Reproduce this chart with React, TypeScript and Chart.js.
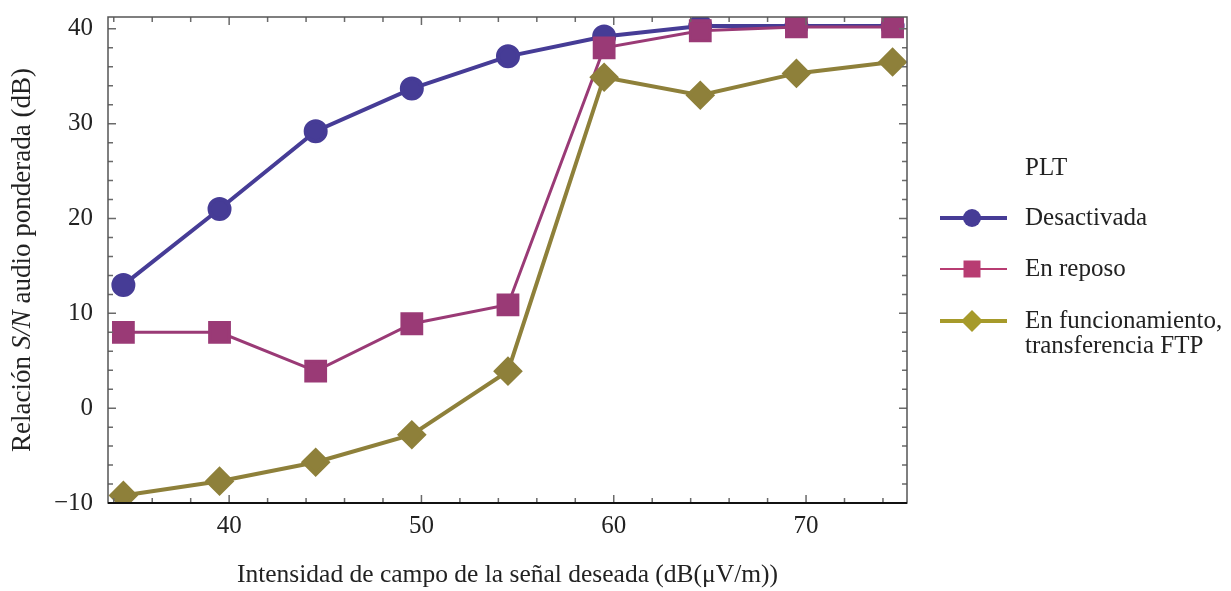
import React, { useEffect, useRef } from "react";
import { Chart, registerables } from "chart.js";

Chart.register(...registerables);

const xValues = [34.5, 39.5, 44.5, 49.5, 54.5, 59.5, 64.5, 69.5, 74.5];
const desactivada = [13.0, 21.0, 29.2, 33.7, 37.1, 39.2, 40.3, 40.3, 40.3];
const enReposo = [8.0, 8.0, 3.9, 8.9, 10.9, 38.0, 39.8, 40.2, 40.2];
const enFuncionamiento = [-9.2, -7.7, -5.7, -2.8, 3.9, 34.9, 33.0, 35.3, 36.5];

const xMajorTicks = [40, 50, 60, 70];
const yMajorTicks = [-10, 0, 10, 20, 30, 40];
const minorStep = 2;

const seriesLabels = ["Desactivada", "En reposo", "En funcionamiento,\ntransferencia FTP"];
const legendTitle = "PLT";
const xTitle = "Intensidad de campo de la señal deseada (dB(μV/m))";
const yTitleParts = [
  { text: "Relación ", italic: false },
  { text: "S/N", italic: true },
  { text: " audio ponderada (dB)", italic: false },
];

const FONT = "'Liberation Serif', 'Times New Roman', serif";
const FS = 25;
const colors = ["#463c96", "#9a3a76", "#8e803a"];
const legendColors = ["#463c96", "#b83c72", "#a69a2a"];

const decorPlugin = {
  id: "decor",
  afterDraw(chart: any) {
    const { ctx, chartArea, scales } = chart;
    const { left, right, top, bottom } = chartArea;
    const xs = scales.x;
    const ys = scales.y;
    ctx.save();
    // ticks (inward, all four sides)
    ctx.strokeStyle = "#6a6a6a";
    ctx.lineWidth = 1.5;
    const xStart = Math.ceil(xs.min / minorStep) * minorStep;
    for (let v = xStart; v <= xs.max + 1e-9; v += minorStep) {
      const px = xs.getPixelForValue(v);
      const len = v % 10 === 0 ? 8 : 5;
      ctx.beginPath();
      ctx.moveTo(px, bottom);
      ctx.lineTo(px, bottom - len);
      ctx.moveTo(px, top);
      ctx.lineTo(px, top + len);
      ctx.stroke();
    }
    const yStart = Math.ceil(ys.min / minorStep) * minorStep;
    for (let v = yStart; v <= ys.max + 1e-9; v += minorStep) {
      const py = ys.getPixelForValue(v);
      const len = v % 10 === 0 ? 8 : 5;
      ctx.beginPath();
      ctx.moveTo(left, py);
      ctx.lineTo(left + len, py);
      ctx.moveTo(right, py);
      ctx.lineTo(right - len, py);
      ctx.stroke();
    }
    // frame
    ctx.strokeStyle = "#555555";
    ctx.lineWidth = 1.5;
    ctx.strokeRect(left, top, right - left, bottom - top);
    ctx.strokeStyle = "#111111";
    ctx.lineWidth = 2;
    ctx.beginPath();
    ctx.moveTo(left, bottom);
    ctx.lineTo(right, bottom);
    ctx.stroke();

    // y title with italic part
    const yfs = 27;
    ctx.fillStyle = "#222222";
    ctx.textBaseline = "middle";
    ctx.textAlign = "left";
    let total = 0;
    const widths = yTitleParts.map((p) => {
      ctx.font = `${p.italic ? "italic " : ""}${yfs}px ${FONT}`;
      const w = ctx.measureText(p.text).width;
      total += w;
      return w;
    });
    ctx.save();
    ctx.translate(23, (top + bottom) / 2);
    ctx.rotate(-Math.PI / 2);
    let cx = -total / 2;
    yTitleParts.forEach((p, i) => {
      ctx.font = `${p.italic ? "italic " : ""}${yfs}px ${FONT}`;
      ctx.fillText(p.text, cx, 0);
      cx += widths[i];
    });
    ctx.restore();

    // legend
    const lx0 = 940;
    const lx1 = 1007;
    const mx = 972;
    const tx = 1025;
    ctx.font = `${FS}px ${FONT}`;
    ctx.fillStyle = "#222222";
    ctx.fillText(legendTitle, tx, 168);
    const rowsY = [218, 269, 321];
    const lineW = [4, 2, 4];
    chart.data.datasets.forEach((ds: any, i: number) => {
      const y = rowsY[i];
      const c = legendColors[i];
      ctx.strokeStyle = c;
      ctx.fillStyle = c;
      ctx.lineWidth = lineW[i];
      ctx.beginPath();
      ctx.moveTo(lx0, y);
      ctx.lineTo(lx1, y);
      ctx.stroke();
      ctx.beginPath();
      if (ds.pointStyle === "circle") {
        ctx.arc(mx, y, 9, 0, Math.PI * 2);
      } else if (ds.pointStyle === "rect") {
        ctx.rect(mx - 8.5, y - 8.5, 17, 17);
      } else {
        ctx.moveTo(mx, y - 11);
        ctx.lineTo(mx + 11, y);
        ctx.lineTo(mx, y + 11);
        ctx.lineTo(mx - 11, y);
        ctx.closePath();
      }
      ctx.fill();
      ctx.fillStyle = "#222222";
      const lines = String(seriesLabels[i]).split("\n");
      lines.forEach((ln, j) => ctx.fillText(ln, tx, y + j * 25));
    });
    ctx.restore();
  },
};

export default function App() {
  const ref = useRef<HTMLCanvasElement>(null);
  useEffect(() => {
    document.body.style.margin = "0";
    const canvas = ref.current;
    if (!canvas) return;
    const mk = (vals: number[]) => xValues.map((x, i) => ({ x, y: vals[i] }));
    const chart = new Chart(canvas, {
      type: "line",
      data: {
        datasets: [
          {
            label: seriesLabels[0],
            data: mk(desactivada),
            borderColor: colors[0],
            backgroundColor: colors[0],
            borderWidth: 4,
            pointStyle: "circle",
            pointRadius: 10,
            pointHoverRadius: 10,
            order: 2,
          },
          {
            label: seriesLabels[1],
            data: mk(enReposo),
            borderColor: colors[1],
            backgroundColor: colors[1],
            borderWidth: 3,
            pointStyle: "rect",
            pointRadius: 14,
            pointHoverRadius: 14,
            order: 1,
          },
          {
            label: seriesLabels[2],
            data: mk(enFuncionamiento),
            borderColor: colors[2],
            backgroundColor: colors[2],
            borderWidth: 4,
            pointStyle: "rectRot",
            pointRadius: 12,
            pointHoverRadius: 12,
            order: 0,
          },
        ],
      },
      options: {
        responsive: false,
        animation: false,
        events: [],
        layout: { padding: { left: 0, right: 324, top: 12, bottom: 0 } },
        plugins: {
          legend: { display: false },
          tooltip: { enabled: false },
        },
        scales: {
          x: {
            type: "linear",
            min: 33.7,
            max: 75.25,
            grid: { display: false, drawTicks: false },
            border: { display: false },
            afterBuildTicks: (s: any) => {
              s.ticks = xMajorTicks.map((v) => ({ value: v }));
            },
            afterFit: (s: any) => {
              s.height = 88;
              s.paddingLeft = 0;
              s.paddingRight = 0;
            },
            ticks: {
              padding: 8,
              color: "#222222",
              font: { family: FONT, size: FS },
              callback: (v: any) => String(v),
            },
            title: {
              display: true,
              text: xTitle,
              color: "#222222",
              font: { family: FONT, size: 25.5 },
              padding: { top: 4, bottom: 0 },
            },
          },
          y: {
            type: "linear",
            min: -10,
            max: 41.25,
            grid: { display: false, drawTicks: false },
            border: { display: false },
            afterBuildTicks: (s: any) => {
              s.ticks = yMajorTicks.map((v) => ({ value: v }));
            },
            afterFit: (s: any) => {
              s.width = 108;
              s.paddingTop = 0;
              s.paddingBottom = 0;
            },
            ticks: {
              padding: 15,
              color: "#222222",
              font: { family: FONT, size: FS },
              callback: (v: any) => String(v).replace("-", "\u2212"),
            },
          },
        },
      },
      plugins: [decorPlugin],
    } as any);
    return () => chart.destroy();
  }, []);
  return (
    <div style={{ position: "absolute", left: 0, top: 0, width: 1231, height: 591 }}>
      <canvas ref={ref} width={1231} height={591} style={{ width: 1231, height: 591, display: "block" }} />
    </div>
  );
}
